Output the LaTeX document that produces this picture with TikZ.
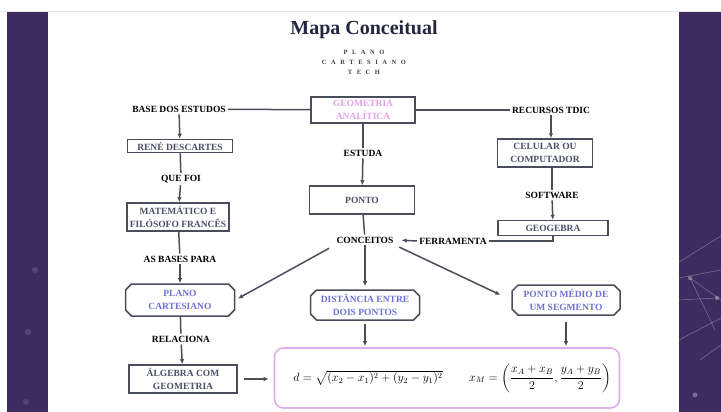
\documentclass[tikz,border=0pt]{standalone}
\usepackage{amsmath}
\usepackage{fontspec}
\setmainfont{Liberation Serif}
\newfontfamily\spacedfont[LetterSpace=70]{Liberation Serif}
\usetikzlibrary{shapes.misc, positioning, arrows.meta}

\definecolor{slidepurple}{HTML}{3D2B62}
\definecolor{titlenavy}{HTML}{23263F}
\definecolor{boxgray}{HTML}{4A4D5C}
\definecolor{boxtext}{HTML}{4B5068}
\definecolor{pinktext}{HTML}{E4A2E6}
\definecolor{bluetext}{HTML}{7070D4}
\definecolor{formborder}{HTML}{DDB0EC}

\tikzset{
  lbl/.style={font=\fontsize{9.5}{11}\selectfont\bfseries, text=black, inner sep=2pt},
  box/.style={draw=boxgray, line width=1.5pt, fill=white, align=center,
    font=\fontsize{9.5}{12.5}\selectfont\bfseries, text=boxtext, inner sep=1pt},
  chbox/.style={chamfered rectangle, chamfered rectangle xsep=3pt, draw=boxgray, line width=1.5pt,
    fill=white, align=center, font=\fontsize{9.5}{12.5}\selectfont\bfseries,
    text=bluetext, inner sep=1pt},
  arr/.style={-{Latex[length=5pt,width=4.5pt]}, line width=1.5pt, draw=boxgray},
  ln/.style={line width=1.5pt, draw=boxgray},
}

\begin{document}
\begin{tikzpicture}[x=1pt, y=-1pt]
  \useasboundingbox (0,0) rectangle (721,412);
  \fill[white] (0,0) rectangle (721,412);
  % slide frame
  \fill[slidepurple] (7,11) rectangle (48,412);
  \fill[slidepurple] (679,11) rectangle (721,412);
  \draw[black!10] (0,11) -- (721,11);
  \begin{scope}[white, opacity=0.3, line width=0.6pt]
    \draw (679,262) -- (721,236) (679,278) -- (721,270) (690,278) -- (721,300)
          (679,300) -- (717,298) (690,278) -- (715,330) (679,340) -- (721,318)
          (700,360) -- (721,345);
    \fill (690,278) circle (2.2) (717,298) circle (2.2) (695,395) circle (2.5);
  \end{scope}
  \fill[white, opacity=0.12] (35,270) circle (3) (28,332) circle (3) (26,402) circle (3);

  % title
  \node[font=\fontsize{20}{22}\selectfont\bfseries, text=titlenavy] (title) at (364,30) {Mapa Conceitual};
  \node[font=\spacedfont\fontsize{6.5}{7}\selectfont\bfseries, text=black!75, inner sep=0pt] (sub1) at (364,52) {PLANO};
  \node[font=\spacedfont\fontsize{6.5}{7}\selectfont\bfseries, text=black!75, inner sep=0pt] (sub2) at (364,62) {CARTESIANO};
  \node[font=\spacedfont\fontsize{6.5}{7}\selectfont\bfseries, text=black!75, inner sep=0pt] (sub3) at (364,72) {TECH};

  % left column
  \node[lbl] (base) at (179,109) {BASE DOS ESTUDOS};
  \node[box, minimum width=105, minimum height=13] (rene) at (180,146) {RENÉ DESCARTES};
  \node[lbl] (quefoi) at (181,179) {QUE FOI};
  \node[box, minimum width=102, minimum height=28] (matem) at (178,217) {MATEMÁTICO E\\FILÓSOFO FRANCÊS};
  \node[lbl] (asbases) at (180,259) {AS BASES PARA};
  \node[chbox, minimum width=109, minimum height=32] (plano) at (180,300) {PLANO\\CARTESIANO};
  \node[lbl] (relaciona) at (181,339) {RELACIONA};
  \node[box, minimum width=108, minimum height=28] (algebra) at (183,379) {ÁLGEBRA COM\\GEOMETRIA};

  % middle column
  \node[box, minimum width=104, minimum height=26, text=pinktext] (geo) at (363,110) {GEOMETRIA\\ANALÍTICA};
  \node[lbl] (estuda) at (363,153) {ESTUDA};
  \node[box, minimum width=105, minimum height=28] (ponto) at (362,200) {PONTO};
  \node[lbl] (conceitos) at (365,240) {CONCEITOS};
  \node[chbox, minimum width=109, minimum height=30] (dist) at (365,305) {DISTÂNCIA ENTRE\\DOIS PONTOS};
  \node[chbox, minimum width=108, minimum height=30] (medio) at (566,300) {PONTO MÉDIO DE\\UM SEGMENTO};

  % right column
  \node[lbl] (recursos) at (551,110) {RECURSOS TDIC};
  \node[box, minimum width=95, minimum height=28] (celular) at (545,153) {CELULAR OU\\COMPUTADOR};
  \node[lbl] (software) at (552,195) {SOFTWARE};
  \node[box, minimum width=110, minimum height=15] (geogebra) at (553,228) {GEOGEBRA};
  \node[lbl] (ferr) at (453,241) {FERRAMENTA};

  % formulas
  \node[draw=formborder, line width=1.6pt, rounded corners=9pt, minimum width=345, minimum height=60] (formula) at (447,378) {};
  \node[font=\fontsize{12}{14}\selectfont] (dform) at (368,378) {$d=\sqrt{(x_2-x_1)^2+(y_2-y_1)^2}$};
  \node[font=\fontsize{12}{14}\selectfont] (mform) at (540,378) {$x_M=\left(\dfrac{x_A+x_B}{2},\dfrac{y_A+y_B}{2}\right)$};

  % connectors
  \draw[ln] (base) -- (geo);
  \draw[ln] (geo) -- (recursos);
  \draw[arr] (base) -- (rene);
  \draw[ln] (rene) -- (quefoi);
  \draw[arr] (quefoi) -- (matem);
  \draw[ln] (matem) -- (asbases);
  \draw[arr] (asbases) -- (plano);
  \draw[ln] (plano) -- (relaciona);
  \draw[arr] (relaciona) -- (algebra);
  \draw[arr, shorten <=6pt, shorten >=5pt] (algebra.east) -- (formula.west |- algebra.east);
  \draw[ln] (geo) -- (estuda);
  \draw[arr] (estuda) -- (ponto);
  \draw[ln] (ponto) -- (conceitos);
  \draw[arr, shorten <=6pt, shorten >=3pt] (conceitos.south west) -- (plano.east);
  \draw[arr, shorten >=3pt] (conceitos) -- (dist);
  \draw[arr, shorten <=4pt, shorten >=12pt] (conceitos.south east) -- (medio.west);
  \draw[arr, shorten <=3pt, shorten >=1pt] (dist.south) -- (dist.south |- formula.north);
  \draw[arr, shorten <=6pt, shorten >=1pt] (medio.south) -- (medio.south |- formula.north);
  \draw[arr] (recursos) -- (celular.north -| recursos);
  \draw[ln] (celular.south -| software) -- (software);
  \draw[arr] (software) -- (geogebra);
  \draw[ln] (geogebra.south) |- (ferr.east);
  \draw[arr, shorten >=6pt] (ferr.west) -- (conceitos.east);
\end{tikzpicture}
\end{document}
